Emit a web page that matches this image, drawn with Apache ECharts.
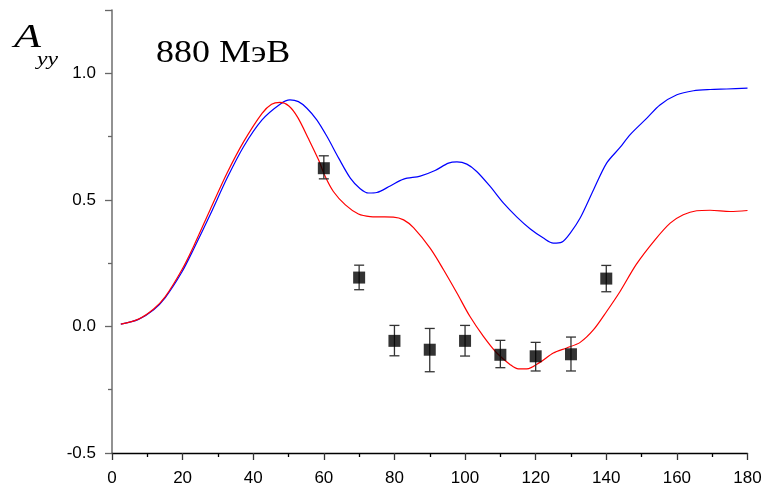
<!DOCTYPE html>
<html>
<head>
<meta charset="utf-8">
<script src="https://cdn.jsdelivr.net/npm/echarts@6/dist/echarts.min.js"></script>
<style>html,body{margin:0;padding:0;background:#fff;}#c{width:770px;height:491px;}</style>
</head>
<body>
<div id="c"></div>
<script>
// ---- data ----
var blueX = [2.5,7.5,11.8,15.1,19.8,23.1,27.8,32.6,37.3,42.5,47.7,50.4,52.8,55.2,58.0,60.9,64.2,67.5,70.3,72.7,75.0,78.8,82.6,87.3,91.5,95.3,97.7,100.5,103.3,107.1,110.9,114.7,118.4,122.2,125.0,127.4,129.8,132.6,136.4,140.1,143.9,146.7,151.5,155.2,160.0,164.7,169.4,174.1,180];
var blueY = [0.009,0.028,0.066,0.114,0.215,0.305,0.441,0.586,0.711,0.816,0.879,0.895,0.888,0.862,0.816,0.750,0.665,0.586,0.544,0.527,0.529,0.555,0.582,0.594,0.616,0.645,0.650,0.641,0.612,0.553,0.487,0.432,0.386,0.349,0.329,0.333,0.369,0.428,0.540,0.645,0.707,0.757,0.823,0.875,0.915,0.931,0.936,0.938,0.941];
var redX = [2.5,7.5,11.8,15.1,19.8,23.1,27.8,32.6,37.3,42.5,45.2,47.6,50.1,52.6,55.7,58.5,60.4,62.7,66.1,69.8,73.1,76.0,79.7,82.6,85.4,90.1,93.9,97.7,101.4,105.2,109.0,112.8,115.1,117.5,121.3,125.0,128.8,132.6,136.4,140.1,143.9,148.5,153.8,158.1,161.8,165.6,169.4,175.1,180];
var redY = [0.009,0.029,0.069,0.118,0.224,0.316,0.461,0.606,0.730,0.842,0.878,0.885,0.871,0.826,0.740,0.658,0.592,0.533,0.480,0.444,0.434,0.433,0.432,0.421,0.390,0.309,0.224,0.132,0.039,-0.039,-0.105,-0.151,-0.168,-0.168,-0.141,-0.105,-0.085,-0.063,-0.013,0.059,0.138,0.245,0.342,0.408,0.441,0.457,0.459,0.454,0.458];
var expX = [60,70,80,90,100,110,120,130,140];
var expY = [0.625,0.193,-0.057,-0.092,-0.057,-0.112,-0.118,-0.110,0.189];
var expLow = [0.583,0.145,-0.116,-0.179,-0.117,-0.163,-0.176,-0.176,0.137];
var expHigh = [0.674,0.242,0.004,-0.008,0.004,-0.055,-0.063,-0.042,0.241];
var xTicks = [0,20,40,60,80,100,120,140,160,180];
var yTickLabels = [-0.5,0,0.5,1.0];
var yMinorTicks = [-0.25,0.25,0.75];
var titleText = '880 МэВ';

function zip(a,b){ return a.map(function(v,i){ return [v,b[i]]; }); }

var chart = echarts.init(document.getElementById('c'), null, {renderer:'canvas'});
var font = 'Liberation Sans, Arial, sans-serif';
var serif = '"Liberation Serif", "Times New Roman", serif';
var option = {
  animation:false,
  backgroundColor:'#fff',
  grid:{left:112, right:22.5, top:10, bottom:38},
  graphic:[
    {type:'text', x:156, y:38, scaleX:1.16, style:{text:titleText, font:'31px ' + serif, fill:'#000'}},
    {type:'text', x:14, y:21, scaleX:1.3, style:{text:'A', font:'italic 34px ' + serif, fill:'#000'}},
    {type:'text', x:37, y:50, scaleX:1.25, style:{text:'yy', font:'italic 19px ' + serif, fill:'#000'}}
  ],
  xAxis:{
    type:'value', min:0, max:180, interval:20,
    axisLine:{onZero:false, lineStyle:{color:'#000', width:1.3}},
    axisTick:{length:7, lineStyle:{color:'#333', width:1.3}},
    minorTick:{show:true, splitNumber:2, length:4, lineStyle:{color:'#000', width:1.3}},
    splitLine:{show:false},
    axisLabel:{color:'#000', fontSize:17, fontFamily:font, margin:17,
      customValues: xTicks}
  },
  yAxis:[{
    type:'value', min:-0.5, max:1.25, interval:0.5,
    axisLine:{show:true, lineStyle:{color:'#777', width:1.6}},
    axisTick:{show:true, length:7, lineStyle:{color:'#666', width:1.3}, customValues:[-0.5,0,0.5,1.0,1.25]},
    splitLine:{show:false},
    axisLabel:{color:'#000', fontSize:17, fontFamily:font, margin:16, customValues: yTickLabels,
      formatter:function(v){ return v.toFixed(1); }}
  },{
    type:'value', min:-0.5, max:1.25, position:'left',
    axisLine:{show:false},
    axisTick:{show:true, length:4, lineStyle:{color:'#666', width:1.3}, customValues: yMinorTicks},
    axisLabel:{show:false},
    splitLine:{show:false}
  }],
  series:[
    {type:'line', data:zip(blueX,blueY), smooth:0.3, showSymbol:false, lineStyle:{color:'#0000ff', width:1.2}, z:2},
    {type:'line', data:zip(redX,redY), smooth:0.3, showSymbol:false, lineStyle:{color:'#ff0000', width:1.2}, z:2},
    {type:'custom', z:3,
      data: expX.map(function(x,i){ return [x, expLow[i], expHigh[i]]; }),
      renderItem:function(params, api){
        var x = api.value(0);
        var pLo = api.coord([x, api.value(1)]);
        var pHi = api.coord([x, api.value(2)]);
        var hw = 5;
        var st = {stroke:'#333', lineWidth:1.3};
        return {type:'group', children:[
          {type:'line', shape:{x1:pLo[0], y1:pLo[1], x2:pHi[0], y2:pHi[1]}, style:st},
          {type:'line', shape:{x1:pLo[0]-hw, y1:pLo[1], x2:pLo[0]+hw, y2:pLo[1]}, style:st},
          {type:'line', shape:{x1:pHi[0]-hw, y1:pHi[1], x2:pHi[0]+hw, y2:pHi[1]}, style:st}
        ]};
      }
    },
    {type:'scatter', data:zip(expX,expY), symbol:'rect', symbolSize:12, itemStyle:{color:'#000'}, z:4}
  ]
};
chart.setOption(option);
</script>
</body>
</html>
